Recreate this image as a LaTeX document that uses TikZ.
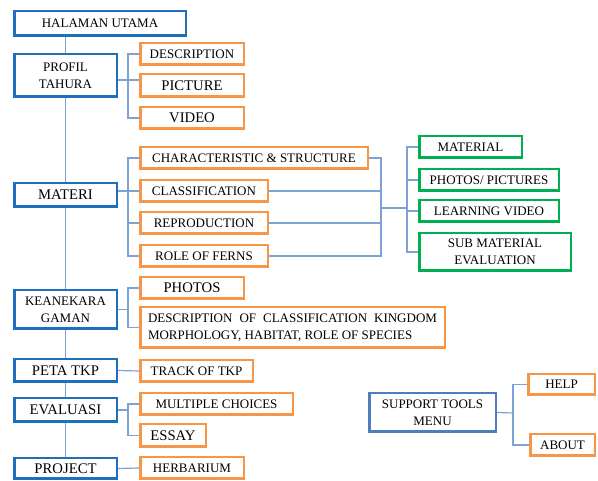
\documentclass[tikz,border=0pt]{standalone}
\usepackage{fontspec}
\setmainfont{Liberation Serif}
\definecolor{bluebox}{HTML}{1F6FBF}
\definecolor{orangebox}{HTML}{F79646}
\definecolor{greenbox}{HTML}{00B050}
\definecolor{supbox}{HTML}{4F7EBD}
\definecolor{conn}{HTML}{7DA2D6}
\tikzset{
  boxbase/.style={draw, line width=2.5pt, inner sep=0pt, align=center, fill=white,
    font=\fontsize{13}{17}\selectfont},
  bbox/.style={boxbase, draw=bluebox},
  obox/.style={boxbase, draw=orangebox},
  gbox/.style={boxbase, draw=greenbox},
  sbox/.style={boxbase, draw=supbox},
  big/.style={font=\fontsize{14.7}{17}\selectfont},
  conline/.style={draw=conn, line width=1.2pt},
}
\newcommand\bx[7]{\node[#1, minimum width={#5-#3-2.5}, minimum height={#6-#4-2.5}] (#2) at ({(#3+#5)/2},{(#4+#6)/2}) {#7};}
\begin{document}
\begin{tikzpicture}[x=1pt,y=-1pt]
\useasboundingbox (0,0) rectangle (598,481);
% boxes
\bx{bbox}{halaman}{13}{10}{187}{37}{HALAMAN UTAMA}
\bx{bbox}{profil}{13}{53}{118}{98}{PROFIL\\TAHURA}
\bx{obox}{desc}{139}{42}{245}{66}{DESCRIPTION}
\bx{obox,big}{pic}{139}{73}{245}{98}{PICTURE}
\bx{obox,big}{video}{139}{106}{245}{130}{VIDEO}
\bx{obox}{char}{139}{146}{369}{170}{CHARACTERISTIC \& STRUCTURE}
\bx{bbox,big}{materi}{13}{182}{118}{208}{MATERI}
\bx{obox}{class}{139}{179}{269}{203}{CLASSIFICATION}
\bx{obox}{repr}{139}{211}{269}{235}{REPRODUCTION}
\bx{obox}{role}{139}{244}{269}{268}{ROLE OF FERNS}
\bx{gbox}{mat}{418}{135}{523}{159}{MATERIAL}
\bx{gbox}{photos}{418}{168}{560}{192}{PHOTOS/ PICTURES}
\bx{gbox}{lvideo}{418}{199}{560}{223}{LEARNING VIDEO}
\bx{gbox}{sub}{418}{232}{572}{272}{SUB MATERIAL\\EVALUATION}
\bx{bbox}{keane}{13}{289}{118}{330}{KEANEKARA\\GAMAN}
\bx{obox,big}{kphotos}{139}{276}{245}{300}{PHOTOS}
\bx{obox}{kdesc}{139}{306}{446}{349}{\makebox[289pt][s]{DESCRIPTION OF CLASSIFICATION KINGDOM}\\\makebox[289pt][l]{MORPHOLOGY, HABITAT, ROLE OF SPECIES}}
\bx{bbox,big}{peta}{13}{358}{118}{383}{PETA TKP}
\bx{obox}{track}{139}{359}{254}{383}{TRACK OF TKP}
\bx{bbox,big}{eval}{13}{397}{118}{423}{EVALUASI}
\bx{obox}{mc}{139}{392}{294}{416}{MULTIPLE CHOICES}
\bx{obox,big}{essay}{139}{423}{207}{448}{ESSAY}
\bx{bbox,big}{project}{13}{457}{118}{480}{PROJECT}
\bx{obox}{herb}{139}{456}{245}{480}{HERBARIUM}
\bx{sbox}{support}{368}{392}{497}{433}{SUPPORT TOOLS\\MENU}
\bx{obox}{help}{527}{373}{596}{396}{HELP}
\bx{obox}{about}{529}{433}{596}{457}{ABOUT}
% connectors
\coordinate (rv) at (381,208);
\coordinate (gv) at (407,208);
\coordinate (sv) at (513,413);
\coordinate (pv) at (118,80);
\path[conline] (profil.north) -- (profil.north |- halaman.south);
\path[conline] (profil.south) -- (materi.north);
\path[conline] (materi.south) -- (keane.north);
\path[conline] (keane.south) -- (peta.north);
\path[conline] (peta.south) -- (eval.north);
\path[conline] (eval.south) -- (project.north);
\path[conline] (pv) -- (pv -| pic.west);
\path[conline] (desc.west) -- ++(-11,0) |- (video.west);
\path[conline] (class.west -| materi.east) -- (class.west);
\path[conline] (char.west) -- ++(-11,0) |- (role.west);
\path[conline] (repr.west) -- ++(-11,0);
\path[conline] (char.east) -| (rv) |- (role.east);
\path[conline] (class.east) -- (class.east -| rv);
\path[conline] (repr.east) -- (repr.east -| rv);
\path[conline] (rv) -- (gv);
\path[conline] (mat.west) -| (gv) |- (sub.west);
\path[conline] (photos.west) -- (photos.west -| gv);
\path[conline] (lvideo.west) -- (lvideo.west -| gv);
\path[conline] (keane.east) -- ++(10,0);
\path[conline] (kphotos.west) -- ++(-11,0) |- (kdesc.west);
\path[conline] (peta.east) -- (track.west);
\path[conline] (eval.east) -- ++(10,0);
\path[conline] (mc.west) -- ++(-11,0) |- (essay.west);
\path[conline] (project.east) -- (herb.west);
\path[conline] (support.east) -- (sv);
\path[conline] (help.west) -- ++(-14,0) |- (about.west);
\end{tikzpicture}
\end{document}
